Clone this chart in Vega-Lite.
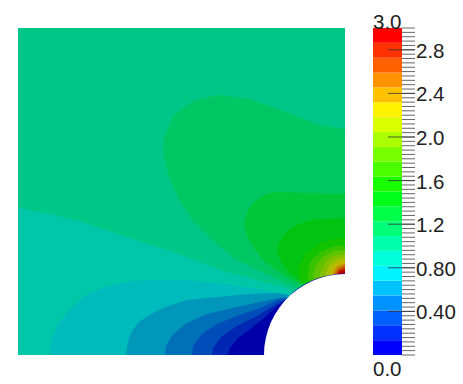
{
"$schema":"https://vega.github.io/schema/vega-lite/v6.json",
"background":"white",
"padding":{"left":18,"top":13,"right":0,"bottom":0},
"spacing":28,
"config":{"view":{"stroke":null},"concat":{"spacing":28}},
"hconcat":[
{"width":327,"height":327,
 "data":{"values":[
 {"band":"7","geo":{"type":"Polygon","coordinates":[[[0,0],[327,0],[327,327],[0,327],[0,0]]]}},
 {"band":"8","geo":{"type":"Polygon","coordinates":[[[327,226],[299,231],[265,244],[232,256],[199,260],[175,254],[155,239],[146,217],[145,201],[150,181],[160,157],[175,134],[195,114],[217,96],[250,80],[282,66],[312,44],[327,44],[327,226]]]}},
 {"band":"9","geo":{"type":"Polygon","coordinates":[[[327,161],[292,162],[259,163],[248,161],[236,153],[229,143],[226,131],[229,119],[235,108],[244,96],[255,87],[272,76],[286,69],[312,44],[327,44],[327,161]]]}},
 {"band":"10","geo":{"type":"Polygon","coordinates":[[[327,137],[299,136],[280,131],[268,123],[261,113],[259,103],[263,94],[272,81],[289,70],[312,44],[327,44],[327,137]]]}},
 {"band":"11","geo":{"type":"Polygon","coordinates":[[[327,117],[314,116],[300,111],[287,101],[280,86],[282,74],[302,54],[327,54],[327,117]]]}},
 {"band":"12","geo":{"type":"Polygon","coordinates":[[[327,110],[314,108],[302,103],[292,93],[289,79],[302,54],[327,54],[327,110]]]}},
 {"band":"13","geo":{"type":"Polygon","coordinates":[[[327,105],[315,104],[305,98],[298,90],[295,79],[302,54],[327,54],[327,105]]]}},
 {"band":"14","geo":{"type":"Polygon","coordinates":[[[327,101],[315,99],[308,94],[303,85],[301,77],[307,54],[327,54],[327,101]]]}},
 {"band":"15","geo":{"type":"Polygon","coordinates":[[[327,98],[317,95],[311,90],[308,82],[308,54],[327,54],[327,98]]]}},
 {"band":"16","geo":{"type":"Polygon","coordinates":[[[327,94.5],[319,92],[313,86],[312,77],[312,54],[327,54],[327,94.5]]]}},
 {"band":"17","geo":{"type":"Polygon","coordinates":[[[327,92],[319,89],[315,83],[315,54],[327,54],[327,92]]]}},
 {"band":"18","geo":{"type":"Polygon","coordinates":[[[327,90],[320,87],[316,80],[316,54],[327,54],[327,90]]]}},
 {"band":"19","geo":{"type":"Polygon","coordinates":[[[327,88.5],[320,85.5],[317,79],[317,54],[327,54],[327,88.5]]]}},
 {"band":"20","geo":{"type":"Polygon","coordinates":[[[327,87],[321,84.5],[318,79],[318,54],[327,54],[327,87]]]}},
 {"band":"21","geo":{"type":"Polygon","coordinates":[[[327,85.5],[321,83],[320,79],[320,54],[327,54],[327,85.5]]]}},
 {"band":"6","geo":{"type":"Polygon","coordinates":[[[0,147],[33,141],[67,132],[100,121],[133,110],[155,103],[179,94],[205,84],[242,74],[272,66],[292,44],[292,0],[0,0],[0,147]]]}},
 {"band":"5","geo":{"type":"Polygon","coordinates":[[[32,0],[33,14],[40,31],[53,47],[70,61],[90,69],[113,74],[140,75],[165,75],[199,72],[232,67],[252,64],[272,60],[292,44],[292,0],[32,0]]]}},
 {"band":"4","geo":{"type":"Polygon","coordinates":[[[108,0],[110,14],[114,24],[120,32],[128,38],[137,43],[150,49],[169,55],[199,58],[232,61],[259,62],[272,60],[292,44],[292,0],[108,0]]]}},
 {"band":"3","geo":{"type":"Polygon","coordinates":[[[147,0],[148,9],[155,21],[169,32],[189,41],[215,47],[242,53],[265,58],[272,58],[292,40],[292,0],[147,0]]]}},
 {"band":"2","geo":{"type":"Polygon","coordinates":[[[174,0],[175,9],[184,21],[199,31],[219,39],[242,47],[262,56],[275,56],[292,40],[292,0],[174,0]]]}},
 {"band":"1","geo":{"type":"Polygon","coordinates":[[[194,0],[195,7],[204,19],[219,29],[239,39],[259,51],[272,58],[292,40],[292,0],[194,0]]]}},
 {"band":"0","geo":{"type":"Polygon","coordinates":[[[210,0],[212,7],[219,16],[232,26],[245,36],[259,49],[272,58],[292,40],[292,0],[210,0]]]}},
 {"band":"0","geo":{"type":"Polygon","coordinates":[[[272.5,60.6],[279.1,65.9],[286.2,70.5],[293.8,74.4],[301.8,77.4],[310.1,79.6],[318.5,81],[327,81.4],[327,60],[272.5,60.6]]]}},
 {"band":"hole","geo":{"type":"Polygon","coordinates":[[[246,0],[246.4,8.5],[247.8,16.8],[250,25],[253,32.9],[256.9,40.5],[261.5,47.6],[266.8,54.2],[272.8,60.2],[279.4,65.5],[286.5,70.1],[294,74],[302,77],[310.2,79.2],[318.5,80.6],[327,81],[327,0],[246,0]]]}}
 ]},
 "projection":{"type":"identity","reflectY":true,"scale":1,"translate":[0,327]},
 "mark":{"type":"geoshape","stroke":null},
 "encoding":{
  "shape":{"field":"geo","type":"geojson"},
  "color":{"field":"band","type":"nominal","legend":null,
   "scale":{"domain":["0","1","2","3","4","5","6","7","8","9","10","11","12","13","14","15","16","17","18","19","20","21","hole"],
   "range":["#0000aa","#0026b4","#004cb8","#0070b8","#0097ba","#00bbbb","#00c7a8","#00c788","#00c764","#00c738","#00c312","#12c300","#38c300","#5ec300","#82c000","#a6c000","#c3b800","#c39400","#c36e00","#c34a00","#c02400","#b80000","#ffffff"]}}
 }
},
{"width":42,"height":327,
 "layer":[
 {"data":{"values":[
  {"band":"0","lo":0,"hi":0.136},{"band":"1","lo":0.136,"hi":0.273},{"band":"2","lo":0.273,"hi":0.409},{"band":"3","lo":0.409,"hi":0.545},{"band":"4","lo":0.545,"hi":0.682},{"band":"5","lo":0.682,"hi":0.818},{"band":"6","lo":0.818,"hi":0.955},{"band":"7","lo":0.955,"hi":1.091},{"band":"8","lo":1.091,"hi":1.227},{"band":"9","lo":1.227,"hi":1.364},{"band":"10","lo":1.364,"hi":1.5},{"band":"11","lo":1.5,"hi":1.636},{"band":"12","lo":1.636,"hi":1.773},{"band":"13","lo":1.773,"hi":1.909},{"band":"14","lo":1.909,"hi":2.045},{"band":"15","lo":2.045,"hi":2.182},{"band":"16","lo":2.182,"hi":2.318},{"band":"17","lo":2.318,"hi":2.455},{"band":"18","lo":2.455,"hi":2.591},{"band":"19","lo":2.591,"hi":2.727},{"band":"20","lo":2.727,"hi":2.864},{"band":"21","lo":2.864,"hi":3}
 ]},
 "mark":{"type":"rect","stroke":null},
 "encoding":{
  "x":{"datum":0,"type":"quantitative","scale":{"domain":[0,42],"nice":false},"axis":null},
  "x2":{"datum":29},
  "y":{"field":"lo","type":"quantitative","scale":{"domain":[0,3],"nice":false},"axis":null},
  "y2":{"field":"hi"},
  "color":{"field":"band","type":"nominal","legend":null,
   "scale":{"domain":["0","1","2","3","4","5","6","7","8","9","10","11","12","13","14","15","16","17","18","19","20","21"],
   "range":["#0000ff","#0031ff","#0061ff","#0092ff","#00c2ff","#00f3ff","#00ffda","#00ffaa","#00ff79","#00ff49","#00ff18","#18ff00","#49ff00","#79ff00","#aaff00","#daff00","#fff300","#ffc200","#ff9200","#ff6100","#ff3100","#ff0000"]}}
 }},
 {"data":{"values":[{"v":0},{"v":0.04},{"v":0.08},{"v":0.12},{"v":0.16},{"v":0.2},{"v":0.24},{"v":0.28},{"v":0.32},{"v":0.36},{"v":0.4},{"v":0.44},{"v":0.48},{"v":0.52},{"v":0.56},{"v":0.6},{"v":0.64},{"v":0.68},{"v":0.72},{"v":0.76},{"v":0.8},{"v":0.84},{"v":0.88},{"v":0.92},{"v":0.96},{"v":1},{"v":1.04},{"v":1.08},{"v":1.12},{"v":1.16},{"v":1.2},{"v":1.24},{"v":1.28},{"v":1.32},{"v":1.36},{"v":1.4},{"v":1.44},{"v":1.48},{"v":1.52},{"v":1.56},{"v":1.6},{"v":1.64},{"v":1.68},{"v":1.72},{"v":1.76},{"v":1.8},{"v":1.84},{"v":1.88},{"v":1.92},{"v":1.96},{"v":2},{"v":2.04},{"v":2.08},{"v":2.12},{"v":2.16},{"v":2.2},{"v":2.24},{"v":2.28},{"v":2.32},{"v":2.36},{"v":2.4},{"v":2.44},{"v":2.48},{"v":2.52},{"v":2.56},{"v":2.6},{"v":2.64},{"v":2.68},{"v":2.72},{"v":2.76},{"v":2.8},{"v":2.84},{"v":2.88},{"v":2.92},{"v":2.96},{"v":3}]},
 "mark":{"type":"rule","color":"#666666","strokeWidth":1},
 "encoding":{"x":{"datum":29,"type":"quantitative"},"x2":{"datum":42},"y":{"field":"v","type":"quantitative"}}},
 {"data":{"values":[{"v":0.4,"label":"0.40"},{"v":0.8,"label":"0.80"},{"v":1.2,"label":"1.2"},{"v":1.6,"label":"1.6"},{"v":2,"label":"2.0"},{"v":2.4,"label":"2.4"},{"v":2.8,"label":"2.8"}]},
 "layer":[
  {"mark":{"type":"rule","color":"#333333","strokeWidth":1,"opacity":0.8},
   "encoding":{"x":{"datum":15,"type":"quantitative"},"x2":{"datum":42},"y":{"field":"v","type":"quantitative"}}},
  {"mark":{"type":"text","align":"left","baseline":"middle","dx":1,"dy":2,"font":"Liberation Sans","fontSize":20.5,"color":"#222222"},
   "encoding":{"x":{"datum":42,"type":"quantitative"},"y":{"field":"v","type":"quantitative"},"text":{"field":"label"}}}
 ]},
 {"data":{"values":[{"v":3,"label":"3.0"},{"v":0,"label":"0.0"}]},
  "layer":[
  {"transform":[{"filter":"datum.v==3"}],"mark":{"type":"text","align":"left","baseline":"alphabetic","dy":1,"font":"Liberation Sans","fontSize":20.5,"color":"#222222"},
   "encoding":{"x":{"datum":0,"type":"quantitative"},"y":{"field":"v","type":"quantitative"},"text":{"field":"label"}}},
  {"transform":[{"filter":"datum.v==0"}],"mark":{"type":"text","align":"left","baseline":"alphabetic","dy":21,"font":"Liberation Sans","fontSize":20.5,"color":"#222222"},
   "encoding":{"x":{"datum":0,"type":"quantitative"},"y":{"field":"v","type":"quantitative"},"text":{"field":"label"}}}
 ]}
 ]
}
],
"resolve":{"scale":{"color":"independent"}}
}
